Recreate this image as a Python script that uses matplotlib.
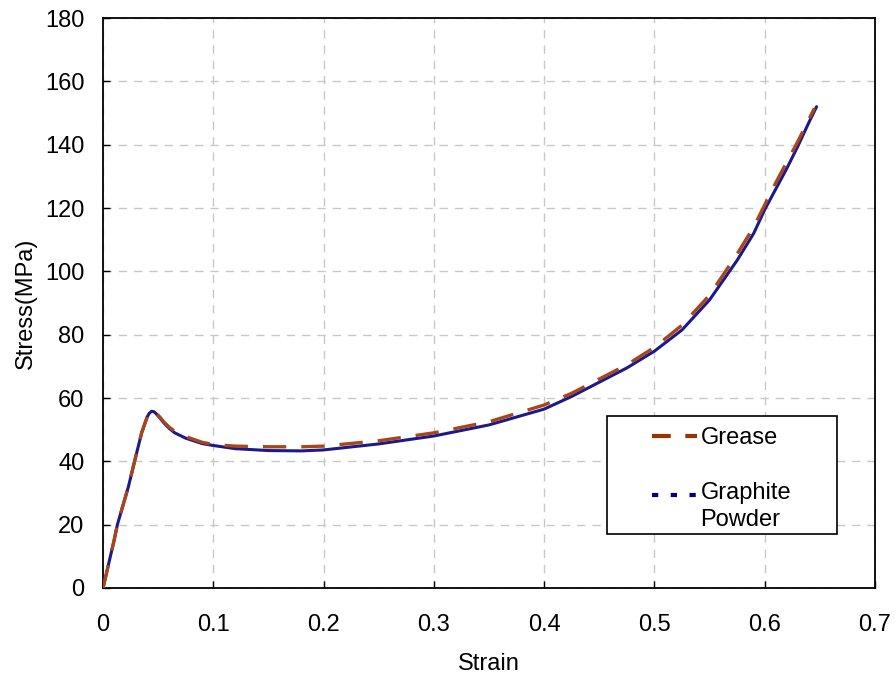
import matplotlib.pyplot as plt
from matplotlib.lines import Line2D
from matplotlib.legend_handler import HandlerLine2D
from matplotlib.transforms import Affine2D

plt.rcParams['font.family'] = ['Liberation Sans', 'DejaVu Sans']

# Stress-strain curves for the two lubrication conditions
grease_strain = [0, 0.005, 0.01, 0.013, 0.018, 0.023, 0.03, 0.035, 0.04, 0.042,
                 0.044, 0.046, 0.048, 0.052, 0.055, 0.06, 0.065, 0.075, 0.09, 0.1,
                 0.12, 0.15, 0.18, 0.2, 0.25, 0.3, 0.35, 0.4, 0.425, 0.45,
                 0.475, 0.5, 0.525, 0.55, 0.575, 0.59, 0.6, 0.61, 0.62, 0.63,
                 0.64, 0.645]
grease_stress = [0, 7.5, 15, 20, 26, 32, 42, 49, 54, 55.3,
                 56, 55.9, 55.3, 53.8, 52.5, 50.8, 49.5, 47.8, 46, 45.3,
                 44.8, 44.6, 44.6, 44.8, 46.5, 49, 52.5, 57.8, 61.5, 66,
                 70.5, 76, 83, 92.5, 105.5, 114, 121, 128, 134.5, 141,
                 148, 151.5]

graphite_strain = [0, 0.005, 0.01, 0.013, 0.018, 0.023, 0.03, 0.035, 0.04, 0.042,
                   0.044, 0.046, 0.048, 0.052, 0.055, 0.06, 0.065, 0.075, 0.09, 0.1,
                   0.12, 0.15, 0.18, 0.2, 0.25, 0.3, 0.35, 0.4, 0.425, 0.45,
                   0.475, 0.5, 0.525, 0.55, 0.575, 0.59, 0.6, 0.61, 0.62, 0.63,
                   0.64, 0.647]
graphite_stress = [0, 7.5, 15, 20, 26, 32, 42, 49, 54, 55.2,
                   55.8, 55.7, 55.1, 53.5, 52.2, 50.4, 49.0, 47.3, 45.6, 45.0,
                   44.0, 43.4, 43.3, 43.6, 45.5, 48, 51.5, 56.5, 60.5, 65,
                   69.5, 74.8, 81.5, 91, 103.5, 112, 119.5, 126, 132.5, 139.5,
                   147, 152]

x_ticks = [0, 0.1, 0.2, 0.3, 0.4, 0.5, 0.6, 0.7]
x_tick_labels = ['0', '0.1', '0.2', '0.3', '0.4', '0.5', '0.6', '0.7']
y_ticks = [0, 20, 40, 60, 80, 100, 120, 140, 160, 180]

grease_color = '#A8461A'
graphite_color = '#1A1A8C'


class ShiftedLine(HandlerLine2D):
    # legend line that can sit higher than the centre of a two-line label
    def __init__(self, dy=0.0, **kw):
        super().__init__(**kw)
        self.dy = dy

    def create_artists(self, legend, orig_handle, xdescent, ydescent,
                       width, height, fontsize, trans):
        return super().create_artists(legend, orig_handle, xdescent,
                                      ydescent - 2 * self.dy * fontsize,
                                      width, height, fontsize, trans)


fig = plt.figure(figsize=(8.96, 6.75), dpi=100)
ax = fig.add_axes([0.115, 0.1289, 0.8616, 0.8444])

ax.plot(graphite_strain, graphite_stress, color=graphite_color, lw=2.2,
        solid_capstyle='round', zorder=3)
ax.plot(grease_strain, grease_stress, color=grease_color, lw=2.4,
        dashes=(7, 4.5), zorder=4)

ax.set_xlim(0, 0.7)
ax.set_ylim(0, 180)
ax.set_xticks(x_ticks)
ax.set_xticklabels(x_tick_labels)
ax.set_yticks(y_ticks)
ax.tick_params(direction='in', length=5, width=1, labelsize=17, colors='black')
ax.tick_params(axis='x', pad=19)
ax.tick_params(axis='y', pad=13.5)

ax.grid(True, color='#C8C8C8', lw=1, dashes=(6, 5))
ax.set_axisbelow(True)
for sp in ax.spines.values():
    sp.set_linewidth(1.3)
    sp.set_color('black')

ax.set_xlabel('Strain', fontsize=17, labelpad=12)
ax.set_ylabel('Stress(MPa)', fontsize=17, labelpad=6)

h_grease = Line2D([], [], color='#993300', lw=3, dashes=(4.5, 3.5))
h_graphite = Line2D([], [], color='#000080', lw=3, dashes=(1.5, 3))
leg = ax.legend([h_grease, h_graphite], ['Grease', 'Graphite\nPowder'],
                loc='lower left',
                bbox_to_anchor=(0.653, 0.0947, 0.298, 0.2035), mode='expand',
                fontsize=17, frameon=True, fancybox=False, framealpha=1,
                edgecolor='black', borderpad=0.3, labelspacing=1.38,
                handlelength=3.5, handletextpad=0.15, borderaxespad=0,
                handler_map={h_grease: HandlerLine2D(xpad=1.6),
                             h_graphite: ShiftedLine(dy=0.5, xpad=1.6)})
leg.get_frame().set_linewidth(1.2)

# nudge the legend contents a few pixels down inside the frame
nudge = Affine2D().translate(0, -4)
for t in leg.get_texts():
    t.set_linespacing(1.3)
    t.set_transform(t.get_transform() + nudge)
for h in leg.legend_handles:
    h.set_transform(h.get_transform() + nudge)

fig.savefig('out.png', dpi=100)
